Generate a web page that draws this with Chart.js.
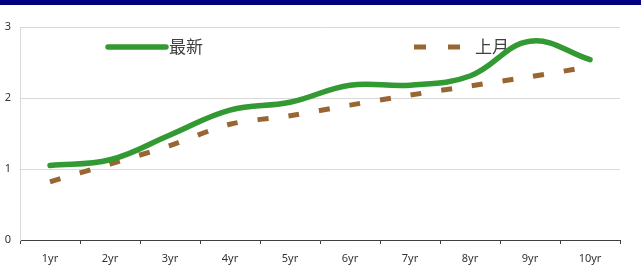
<!DOCTYPE html>
<html>
<head>
<meta charset="utf-8">
<script src="https://cdn.jsdelivr.net/npm/chart.js@4/dist/chart.umd.min.js"></script>
<style>
  html, body { margin: 0; padding: 0; background: #fff; }
  #wrap { width: 641px; height: 266px; position: relative; }
</style>
</head>
<body>
<div id="wrap"><canvas id="chart"></canvas></div>
<script>
// данные графика
const categories = ['1yr', '2yr', '3yr', '4yr', '5yr', '6yr', '7yr', '8yr', '9yr', '10yr'];
const latestValues = [1.05, 1.13, 1.48, 1.83, 1.94, 2.18, 2.18, 2.31, 2.80, 2.54];
const lastMonthValues = [0.82, 1.07, 1.33, 1.63, 1.75, 1.90, 2.04, 2.17, 2.30, 2.44];
const seriesNames = ['最新', '上月'];
const yTicks = [0, 1, 2, 3];

// синяя полоса сверху
const topBar = {
    id: 'topBar',
    beforeDraw(chart) {
        const c = chart.ctx;
        c.save();
        c.fillStyle = '#000080';
        c.fillRect(0, 0, chart.width, 5);
        c.restore();
    }
};

// легенда внутри области графика (под линиями)
const innerLegend = {
    id: 'innerLegend',
    beforeDatasetsDraw(chart) {
        const c = chart.ctx;
        const items = [
            { x1: 108, x2: 166, tx: 169, y: 47 },
            { x1: 414, x2: 460, tx: 475, y: 47 }
        ];
        c.save();
        chart.data.datasets.forEach((ds, i) => {
            const it = items[i];
            c.strokeStyle = ds.borderColor;
            c.lineWidth = ds.borderWidth;
            c.lineCap = ds.borderDash ? 'butt' : 'round';
            c.setLineDash(ds.borderDash ? [12, 22] : []);
            c.beginPath();
            c.moveTo(it.x1, it.y);
            c.lineTo(it.x2, it.y);
            c.stroke();
            c.setLineDash([]);
            c.fillStyle = '#404040';
            c.font = '17px "Noto Sans CJK SC", sans-serif';
            c.textBaseline = 'middle';
            c.textAlign = 'left';
            c.fillText(ds.label, it.tx, it.y);
        });
        c.restore();
    }
};

const ctx = document.getElementById('chart').getContext('2d');

new Chart(ctx, {
    type: 'line',
    data: {
        labels: categories,
        datasets: [{
            label: seriesNames[0],
            data: latestValues,
            borderColor: '#339933',
            borderWidth: 5.5,
            borderCapStyle: 'round',
            tension: 0.4,
            pointRadius: 0,
            fill: false
        }, {
            label: seriesNames[1],
            data: lastMonthValues,
            borderColor: '#996633',
            borderWidth: 5,
            borderDash: [11, 20],
            borderCapStyle: 'butt',
            tension: 0.3,
            pointRadius: 0,
            fill: false
        }]
    },
    options: {
        responsive: true,
        maintainAspectRatio: false,
        animation: false,
        layout: {
            padding: { top: 27, right: 21, left: 0, bottom: 0 }
        },
        plugins: {
            legend: { display: false },
            tooltip: { enabled: false }
        },
        scales: {
            x: {
                offset: true,
                afterFit(scale) { scale.height = 26; },
                grid: {
                    offset: true,
                    drawOnChartArea: false,
                    drawTicks: true,
                    tickLength: 4,
                    color: '#404040'
                },
                border: { color: '#404040', width: 1 },
                ticks: {
                    color: '#333',
                    font: { family: 'Noto Sans', size: 11 },
                    padding: 8,
                    maxRotation: 0
                }
            },
            y: {
                min: 0,
                max: 3,
                afterFit(scale) { scale.width = 20; },
                afterBuildTicks(scale) {
                    scale.ticks = yTicks.map(v => ({ value: v }));
                },
                grid: {
                    color: '#d9d9d9',
                    drawTicks: false
                },
                border: { color: '#d9d9d9' },
                ticks: {
                    color: '#333',
                    font: { family: 'Noto Sans', size: 11 },
                    padding: 9
                }
            }
        }
    },
    plugins: [topBar, innerLegend]
});
</script>
</body>
</html>
